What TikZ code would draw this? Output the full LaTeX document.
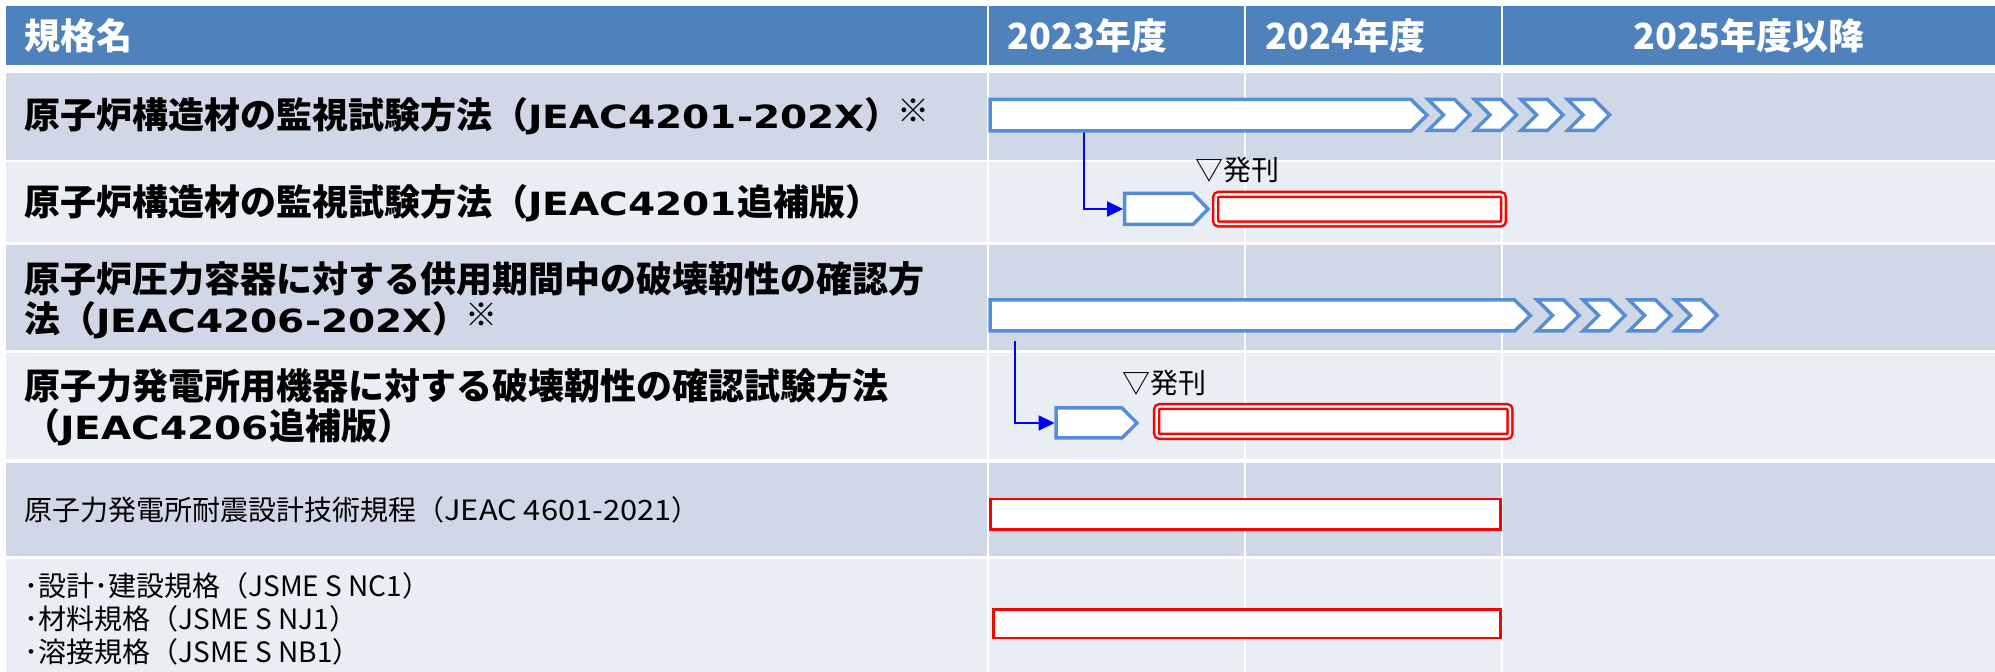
\documentclass[tikz,border=0pt]{standalone}
\usepackage{graphicx}
\usepackage{fontspec}
\setmainfont{Noto Sans CJK JP}
\newfontfamily\latfont{DejaVu Sans}
\usetikzlibrary{arrows.meta}
\definecolor{hdrblue}{HTML}{4F81BD}
\definecolor{rowdark}{HTML}{D0D8E8}
\definecolor{rowlight}{HTML}{E9EDF4}
\definecolor{barblue}{HTML}{558ED5}
\newcommand\rowcells[3]{%
  \foreach \xa/\xb in {6/986.7,989/1243.5,1246.3/1500.7,1503.3/1995}{\fill[#3] (\xa,#1) rectangle (\xb,#2);}}
\newcommand\blat[1]{\scalebox{1.22}[1]{\fontsize{16pt}{20pt}\selectfont\latfont\bfseries #1}}
\newcommand\slat[1]{\scalebox{1.1}[1]{#1}}
\newcommand\kome{\kern-1.5pt\raisebox{3pt}{\fontsize{16pt}{16pt}\selectfont\mdseries ※}}
\tikzset{
  hdrcell/.style={fill=hdrblue},
  darkcell/.style={fill=rowdark},
  lightcell/.style={fill=rowlight},
  barline/.style={draw=barblue, line width=1.75pt, fill=white, line join=miter},
  pubbox/.style={draw=red, double=white, double distance=1.15pt, line width=1.25pt, fill=white, rounded corners=1.5pt},
  planbox/.style={draw=red, line width=1.35pt, fill=white},
  link/.style={draw=blue, line width=1pt, -{Triangle[length=8pt,width=7.5pt]}},
  hdrtext/.style={text=white, inner sep=0pt, font=\fontsize{18pt}{20pt}\selectfont\bfseries},
  bigtext/.style={text=black, inner sep=0pt, anchor=west, align=left, font=\fontsize{18pt}{20pt}\selectfont\bfseries},
  smalltext/.style={text=black, inner sep=0pt, anchor=west, align=left, font=\fontsize{14pt}{16.5pt}\selectfont},
  pubtext/.style={text=black, inner sep=0pt, font=\fontsize{14pt}{14pt}\selectfont},
  chevpic/.pic={\path[barline] (0,-15.5) -- (26.5,-15.5) -- (42,0) -- (26.5,15.5) -- (0,15.5) -- (15.5,0) -- cycle;}
}
\begin{document}
\begin{tikzpicture}[x=0.5pt,y=-0.5pt]
\useasboundingbox (0,0) rectangle (1995,672);
\fill[white] (0,0) rectangle (1995,672);
% table cells
\rowcells{6}{65.3}{hdrcell}
\rowcells{72.7}{160}{darkcell}
\rowcells{162.3}{241.7}{lightcell}
\rowcells{245}{350}{darkcell}
\rowcells{353.3}{459.3}{lightcell}
\rowcells{462.7}{556}{darkcell}
\rowcells{558.7}{672}{lightcell}
% header texts
\node[hdrtext, anchor=west] (h0) at (24,35.5) {規格名};
\node[hdrtext, anchor=west] (h1) at (1007,35.5) {2023年度};
\node[hdrtext, anchor=west] (h2) at (1265,35.5) {2024年度};
\node[hdrtext] (h3) at (1749,35.5) {2025年度以降};
% row texts
\node[bigtext] (r1) at (24,116.5) {原子炉構造材の監視試験方法（\blat{JEAC4201-202X}）\kome};
\node[bigtext] (r2) at (24,203) {原子炉構造材の監視試験方法（\blat{JEAC4201}追補版）};
\node[bigtext] (r3) at (24,300) {原子炉圧力容器に対する供用期間中の破壊靭性の確認方\\法（\blat{JEAC4206-202X}）\kome};
\node[bigtext] (r4) at (24,407) {原子力発電所用機器に対する破壊靭性の確認試験方法\\（\blat{JEAC4206}追補版）};
\node[smalltext] (r5) at (24,510) {原子力発電所耐震設計技術規程（\slat{JEAC 4601-2021}）};
\node[smalltext] (r6) at (24,619) {･設計･建設規格（JSME S NC1）\\･材料規格（JSME S NJ1）\\･溶接規格（JSME S NB1）};
% connector anchors
\coordinate (c1) at (1084,131);
\coordinate (p2w) at (1123,209);
\coordinate (c3) at (1015,341);
\coordinate (p4w) at (1054.5,423);
% connectors
\draw[link] (c1) |- (p2w);
\draw[link] (c3) |- (p4w);
% row 1 bar and chevrons
\path[barline] (990,99.5) -- (1411,99.5) -- (1427,115.25) -- (1411,131) -- (990,131) -- cycle;
\foreach \cx in {1428,1474.5,1521,1567.5}{\pic at (\cx,115) {chevpic};}
% row 2
\path[barline] (1124.5,193.5) -- (1193,193.5) -- (1208,209) -- (1193,224.5) -- (1124.5,224.5) -- cycle;
\draw[pubbox] (1215.6,194.4) rectangle (1503.4,224);
\node[pubtext] (pub2) at (1237,170) {▽発刊};
% row 3 bar and chevrons
\path[barline] (990,300) -- (1514.5,300) -- (1530.5,315.5) -- (1514.5,331) -- (990,331) -- cycle;
\foreach \cx in {1537,1583,1629,1675}{\pic at (\cx,315.5) {chevpic};}
% row 4
\path[barline] (1056,408) -- (1122,408) -- (1137,423) -- (1122,438) -- (1056,438) -- cycle;
\draw[pubbox] (1156.6,406.6) rectangle (1510,436.4);
\node[pubtext] (pub4) at (1164,383) {▽発刊};
% rows 5 and 6
\draw[planbox] (990.7,499) rectangle (1500.6,529.3);
\draw[planbox] (993.7,609.7) rectangle (1500.6,637.9);
\end{tikzpicture}
\end{document}
